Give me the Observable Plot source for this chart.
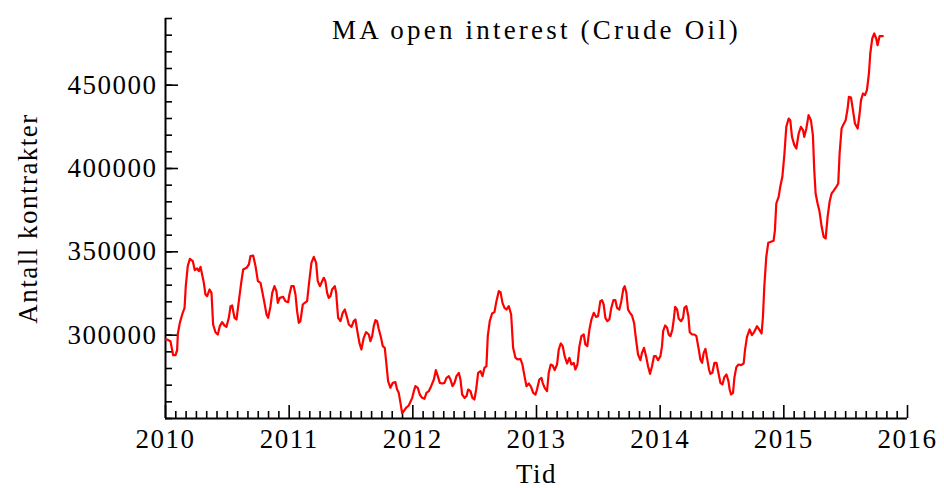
<!DOCTYPE html>
<html>
<head>
<meta charset="utf-8">
<script src="https://cdn.jsdelivr.net/npm/d3@7"></script>
<script src="https://cdn.jsdelivr.net/npm/@observablehq/plot@0.6"></script>
<style>
  html, body { margin: 0; padding: 0; background: #fff; }
  #chart { width: 944px; height: 488px; }
</style>
</head>
<body>
<div id="chart"></div>
<script>
// ---- data (decimal year, contracts) ----
const time = [
2010.0,2010.013,2010.04,2010.062,2010.081,2010.094,2010.10,2010.116,2010.135,2010.154,2010.164,2010.18,2010.197,2010.221,2010.237,2010.256,2010.27,2010.283,2010.296,2010.31,2010.323,2010.337,2010.356,2010.372,2010.385,2010.404,2010.423,2010.439,2010.458,2010.477,2010.493,2010.512,2010.526,2010.539,2010.558,2010.574,2010.593,2010.612,2010.628,2010.655,2010.674,2010.687,2010.709,2010.728,2010.747,2010.768,2010.782,2010.8,2010.817,2010.83,2010.849,2010.863,2010.881,2010.897,2010.908,2010.924,2010.951,2010.97,
2010.992,2011.002,2011.018,2011.037,2011.051,2011.064,2011.078,2011.091,2011.11,2011.126,2011.145,2011.164,2011.18,2011.199,2011.218,2011.231,2011.248,2011.261,2011.28,2011.293,2011.307,2011.32,2011.334,2011.347,2011.369,2011.38,2011.396,2011.415,2011.433,2011.45,2011.469,2011.482,2011.504,2011.522,2011.536,2011.549,2011.568,2011.584,2011.603,2011.622,2011.644,2011.657,2011.671,2011.684,2011.698,2011.711,2011.724,2011.743,2011.757,2011.773,2011.784,2011.8,2011.819,2011.838,2011.859,2011.873,2011.886,2011.9,2011.913,2011.927,2011.945,2011.967,
2011.995,2012.008,2012.021,2012.04,2012.056,2012.075,2012.094,2012.11,2012.129,2012.148,2012.17,2012.186,2012.202,2012.218,2012.237,2012.256,2012.272,2012.291,2012.304,2012.321,2012.337,2012.353,2012.372,2012.385,2012.399,2012.418,2012.434,2012.447,2012.466,2012.482,2012.498,2012.512,2012.528,2012.547,2012.563,2012.579,2012.595,2012.606,2012.622,2012.641,2012.66,2012.676,2012.695,2012.709,2012.725,2012.741,2012.757,2012.776,2012.795,2012.811,2012.83,2012.849,2012.87,2012.886,2012.903,2012.919,2012.938,2012.956,2012.973,2012.992,
2013.004,2013.023,2013.04,2013.05,2013.066,2013.085,2013.099,2013.115,2013.131,2013.147,2013.166,2013.18,2013.196,2013.212,2013.228,2013.247,2013.266,2013.282,2013.301,2013.314,2013.331,2013.347,2013.363,2013.382,2013.395,2013.411,2013.428,2013.444,2013.463,2013.481,2013.498,2013.516,2013.53,2013.543,2013.557,2013.573,2013.589,2013.605,2013.622,2013.638,2013.651,2013.67,2013.686,2013.702,2013.713,2013.727,2013.74,2013.756,2013.772,2013.789,2013.805,2013.821,2013.84,2013.853,2013.869,2013.886,2013.902,2013.918,2013.934,2013.95,2013.966,2013.983,
2014.002,2014.015,2014.024,2014.04,2014.056,2014.069,2014.083,2014.099,2014.11,2014.121,2014.137,2014.15,2014.169,2014.185,2014.196,2014.212,2014.228,2014.239,2014.258,2014.277,2014.293,2014.312,2014.325,2014.339,2014.352,2014.366,2014.379,2014.395,2014.406,2014.422,2014.439,2014.455,2014.471,2014.487,2014.503,2014.519,2014.536,2014.552,2014.562,2014.573,2014.589,2014.6,2014.616,2014.633,2014.654,
2014.675,2014.686,2014.702,2014.723,2014.742,2014.761,2014.783,2014.804,2014.82,2014.831,2014.842,2014.858,2014.874,2014.896,2014.917,2014.928,2014.939,2014.958,2014.971,2014.988,2015.004,2015.02,2015.039,2015.052,2015.066,2015.085,2015.101,2015.12,2015.138,2015.155,2015.165,2015.182,2015.2,2015.219,2015.235,2015.246,2015.257,2015.273,2015.289,2015.306,2015.322,2015.338,2015.354,2015.37,2015.386,2015.402,2015.424,2015.44,2015.451,2015.467,2015.483,2015.5,2015.516,2015.526,2015.543,2015.559,2015.575,2015.597,2015.613,2015.624,2015.64,2015.656,2015.672,2015.688,2015.699,2015.715,2015.731,2015.747,2015.758,2015.774,2015.8
];
const openInterest = [
297400,297400,296400,288000,288000,291000,301000,307400,312400,316400,329400,341400,345800,344400,339000,340000,338400,341000,336400,331400,324400,323400,327400,325400,306400,301800,300400,305400,307800,305800,305000,310400,317400,317800,310400,309400,320400,331400,339400,340400,342400,347400,347800,341400,332400,331400,326400,319400,312400,310400,317400,325400,329400,326400,319400,322400,323000,320400,
319800,324400,329400,329400,324400,314400,307400,308400,318400,319400,320400,333400,343400,347000,343400,332400,329400,331400,334400,332400,325400,322400,323400,327400,329400,325400,310400,308400,313400,315400,310400,306400,305000,308400,309400,303400,295400,291400,298400,301800,300400,296400,299400,305400,309000,308400,303800,298400,293400,292400,284400,272400,268400,271400,271800,267400,265400,259400,253400,254400,256400,257800,
262400,266400,269400,268400,264400,262400,261800,265400,266400,269400,273400,279000,275400,271400,271000,271400,274400,275400,273400,269400,271400,275400,277400,273400,264400,262400,263400,267400,266400,262400,261400,267400,277400,278400,275400,280400,281400,299400,308400,313000,313800,320400,326400,325800,319400,316400,315400,317400,312400,292400,286400,285400,285800,282400,275400,269400,271000,269000,265400,264400,
267400,273400,274400,271400,268400,266400,277400,282400,281800,279000,282400,291400,295000,293400,287400,283000,286400,282400,283400,279400,282400,293400,299400,300400,294400,293400,303400,309400,313400,311000,311400,320400,321000,318400,310400,308400,309400,316400,321000,321000,316400,315400,320400,327800,329400,325400,315400,313400,311800,307400,297400,288400,285000,289400,292400,287400,281400,276800,281400,287400,287400,285000,
287400,293400,302400,305800,304400,300400,299400,303400,309400,317000,315400,309800,308400,310400,316400,317400,311400,301800,300400,300400,299400,291400,285400,283400,289400,291800,286400,279400,276800,277400,283400,283400,277400,271400,270400,274800,276400,272400,267400,264400,265400,274400,280800,282400,282000,
283000,291000,299000,303400,300000,302000,305400,303000,301000,311000,329000,347000,355400,356000,356600,363000,379000,383000,389000,395000,408000,425000,430000,429000,419000,414000,412000,421000,425000,423000,419000,424000,432000,429000,420000,399000,385000,379000,374000,365000,359000,358000,371000,380000,385000,386600,389000,391000,409000,424000,426600,429000,436000,443000,442600,435000,427000,424000,433000,441000,445000,444000,447000,457000,469000,478000,481000,478000,474000,479400,479400
];

// ---- axes / text ----
const xDomain = [2010, 2016];
const yDomain = [250000, 490000];
const xTicks = [2010, 2011, 2012, 2013, 2014, 2015, 2016];
const yTicks = [300000, 350000, 400000, 450000];
const xMinorTicks = d3.range(0, 72).map(i => 2010 + i / 12).filter((d, i) => i % 12 !== 0);
const yMinorTicks = d3.range(250000, 490001, 10000);
const title = "MA open interest (Crude Oil)";
const xLabel = "Tid";
const yLabel = "Antall kontrakter";

const data = time.map((t, i) => ({t, v: openInterest[i]}));

const chart = Plot.plot({
  width: 944,
  height: 488,
  marginLeft: 165,
  marginRight: 37,
  marginTop: 18,
  marginBottom: 70,
  style: {fontFamily: "'Liberation Serif', 'Times New Roman', serif", fontSize: "27px", color: "#000", background: "#fff", letterSpacing: "1.5px"},
  x: {domain: xDomain},
  y: {domain: yDomain},
  marks: [
    // minor ticks (inward)
    Plot.axisY(yMinorTicks, {tickSize: -7, text: null, label: null, strokeWidth: 1.6}),
    Plot.axisX(xMinorTicks, {tickSize: -7, text: null, label: null, strokeWidth: 1.6}),
    // major ticks + labels
    Plot.axisY(yTicks, {tickSize: -13, tickPadding: 21, strokeWidth: 1.6, tickFormat: d => String(d),
      label: yLabel, labelAnchor: "center", labelOffset: 148, labelArrow: "none"}),
    Plot.axisX(xTicks, {tickSize: -13, tickPadding: 23, strokeWidth: 1.6, tickFormat: d => String(d),
      label: xLabel, labelAnchor: "center", labelOffset: 64, labelArrow: "none"}),
    // axis lines
    Plot.ruleX([xDomain[0]], {strokeWidth: 2}),
    Plot.ruleY([yDomain[0]], {strokeWidth: 2}),
    // series
    Plot.line(data, {x: "t", y: "v", stroke: "#ff0000", strokeWidth: 2.2}),
    // title
    Plot.text([title], {frameAnchor: "top", dy: 1, fontSize: 27, fill: "#000"})
  ]
});
document.getElementById("chart").appendChild(chart);
// widen the title a little, as in the reference
const textGroups = chart.querySelectorAll('g[aria-label="text"]');
if (textGroups.length) {
  textGroups[textGroups.length - 1].querySelectorAll("text").forEach(t => t.style.letterSpacing = "3.2px");
}
</script>
</body>
</html>
